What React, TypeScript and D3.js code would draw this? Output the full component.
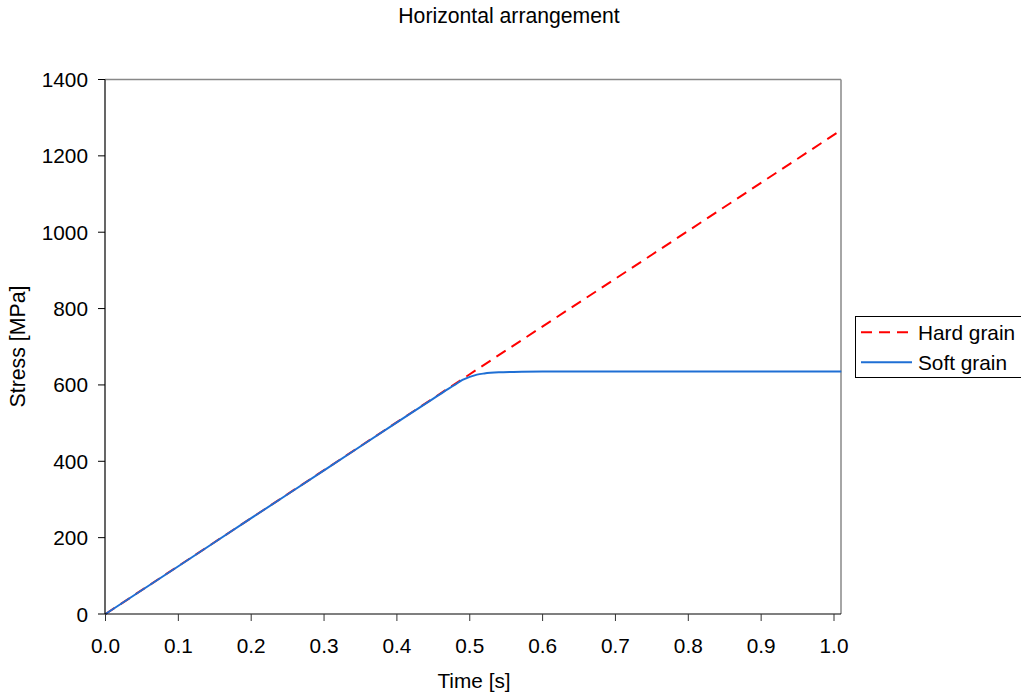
import React from "react";
import * as d3 from "d3";

// Stress history of the two grains in series
const hardTime = [0, 0.25, 0.5, 0.75, 1.01];
const hardStress = [0, 314, 628, 941, 1268];

const softTime = [0, 0.1, 0.2, 0.3, 0.4, 0.45, 0.47, 0.48, 0.49, 0.5, 0.51, 0.52, 0.54, 0.56, 0.6, 0.7, 0.8, 0.9, 1.0, 1.01];
const softStress = [0, 125, 251, 376, 502, 564, 589, 601, 613, 621, 627, 630, 633, 634, 635, 635, 635, 635, 635, 635];

const xTicks = [0, 0.1, 0.2, 0.3, 0.4, 0.5, 0.6, 0.7, 0.8, 0.9, 1.0];
const yTicks = [0, 200, 400, 600, 800, 1000, 1200, 1400];

const seriesNames = ["Hard grain", "Soft grain"];

const W = 1021;
const H = 696;
const FONT = "'Liberation Sans', Arial, sans-serif";
const FS = 20.8;
const RED = "#ff0000";
const BLUE = "#1f6fd4";
const DASH = "11,7";

export default function App() {
  const x = d3.scaleLinear().domain([0, 1]).range([105.5, 834]);
  const y = d3.scaleLinear().domain([0, 1400]).range([614, 79.5]);
  const xMax = x.invert(841);

  const line = d3
    .line<[number, number]>()
    .x((d) => x(d[0]))
    .y((d) => y(d[1]))
    .curve(d3.curveMonotoneX);

  const hard: [number, number][] = hardTime.map((t, i) => [t, hardStress[i]]);
  const soft: [number, number][] = softTime.map((t, i) => [t, softStress[i]]);

  const left = x(0) - 0.5;
  const right = x(xMax);
  const top = y(1400);
  const bottom = y(0);

  return (
    <svg width={W} height={H} style={{ position: "absolute", left: 0, top: 0, background: "#fff" }} fontFamily={FONT}>
      <rect width={W} height={H} fill="#fff" />
      <text x={509} y={23} textAnchor="middle" fontSize={21.2}>
        Horizontal arrangement
      </text>

      {/* plot frame: gray top/right, black axes */}
      <line x1={left} x2={right} y1={top} y2={top} stroke="#888" strokeWidth={1.5} />
      <line x1={right} x2={right} y1={top} y2={bottom} stroke="#888" strokeWidth={1.5} />

      <g>
        <path d={line(hard) || ""} fill="none" stroke={RED} strokeWidth={2} strokeDasharray={DASH} />
        <path d={line(soft) || ""} fill="none" stroke={BLUE} strokeWidth={2} />
      </g>

      <line x1={left} x2={left} y1={top} y2={bottom} stroke="#000" strokeWidth={1.2} />
      <line x1={left} x2={right} y1={bottom} y2={bottom} stroke="#000" strokeWidth={1.2} />

      {xTicks.map((t) => (
        <g key={"x" + t}>
          <line x1={x(t)} x2={x(t)} y1={bottom} y2={bottom + 7} stroke="#333" strokeWidth={1} />
          <text x={x(t)} y={bottom + 39} textAnchor="middle" fontSize={FS}>
            {t.toFixed(1)}
          </text>
        </g>
      ))}
      {yTicks.map((v) => (
        <g key={"y" + v}>
          <line x1={left - 7} x2={left} y1={y(v)} y2={y(v)} stroke="#000" strokeWidth={1} />
          <text x={88} y={y(v) + 7.5} textAnchor="end" fontSize={FS}>
            {v}
          </text>
        </g>
      ))}

      <text x={474} y={688} textAnchor="middle" fontSize={FS}>
        Time [s]
      </text>
      <text transform={`translate(25,346.5) rotate(-90)`} textAnchor="middle" fontSize={21.3}>
        Stress [MPa]
      </text>

      {/* legend */}
      <rect x={855.5} y={316.5} width={170} height={61} fill="#fff" stroke="#000" strokeWidth={1} />
      <line x1={861} x2={912} y1={332.3} y2={332.3} stroke={RED} strokeWidth={2} strokeDasharray={DASH} />
      <text x={918} y={339.5} fontSize={FS}>
        {seriesNames[0]}
      </text>
      <line x1={861} x2={912} y1={362.3} y2={362.3} stroke={BLUE} strokeWidth={2} />
      <text x={918} y={369.5} fontSize={FS}>
        {seriesNames[1]}
      </text>
    </svg>
  );
}
